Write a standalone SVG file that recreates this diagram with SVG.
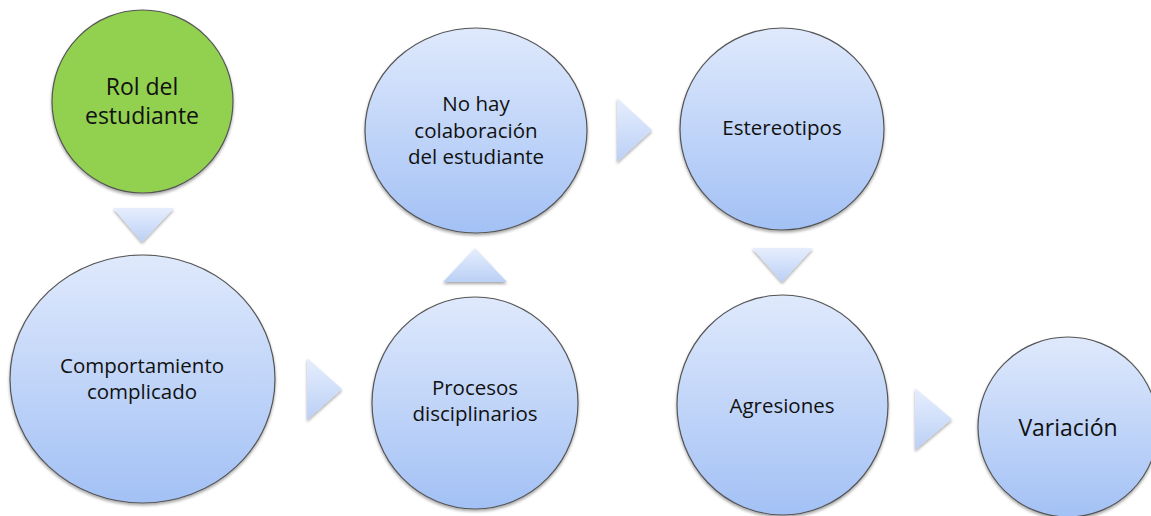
<svg xmlns="http://www.w3.org/2000/svg" width="1151" height="516" viewBox="0 0 1151 516">
<defs>
<linearGradient id="gBlue" x1="0" y1="0" x2="0" y2="1">
<stop offset="0" stop-color="#DFE9FC"/>
<stop offset="1" stop-color="#A3C1F5"/>
</linearGradient>
<linearGradient id="gArrow" x1="0" y1="0" x2="0" y2="1">
<stop offset="0" stop-color="#E6EEFD"/>
<stop offset="1" stop-color="#BBD0F6"/>
</linearGradient>
<filter id="sh" x="-20%" y="-20%" width="140%" height="140%">
<feGaussianBlur in="SourceAlpha" stdDeviation="1.5"/>
<feOffset dx="0" dy="2" result="b"/>
<feComponentTransfer><feFuncA type="linear" slope="0.35"/></feComponentTransfer>
<feMerge><feMergeNode/><feMergeNode in="SourceGraphic"/></feMerge>
</filter>
</defs>
<style>
.blue{fill:url(#gBlue);stroke:#555555;stroke-width:1.2;filter:url(#sh)}
.green{fill:#92D050;stroke:#555555;stroke-width:1.2;filter:url(#sh)}
.arr{fill:url(#gArrow);stroke:none;filter:url(#sh)}
.t{font-family:"Open Sans","Liberation Sans",sans-serif;font-size:20.5px;fill:#111;text-anchor:middle}
.tg{font-family:"Open Sans","Liberation Sans",sans-serif;font-size:23px;fill:#111;text-anchor:middle}
</style>
<rect width="1151" height="516" fill="#ffffff"/>
<g id="connectors">
<polygon class="arr" points="113,208 174,208 142,242"/>
<polygon class="arr" points="307,358 342,389 307,420"/>
<polygon class="arr" points="443,282 507,282 475,248"/>
<polygon class="arr" points="617,98 652,130 617,162"/>
<polygon class="arr" points="752,248 813,248 782,282"/>
<polygon class="arr" points="915,388 952,419 915,450"/>
</g>
<g id="rol">
<ellipse class="green" cx="142.5" cy="101.5" rx="90.5" ry="91.5"/>
<text class="tg" x="142" y="95">Rol del</text>
<text class="tg" x="142" y="124">estudiante</text>
</g>
<g id="comportamiento">
<ellipse class="blue" cx="142.5" cy="379" rx="132.5" ry="124"/>
<text class="t" x="142" y="373">Comportamiento</text>
<text class="t" x="142" y="399">complicado</text>
</g>
<g id="procesos">
<ellipse class="blue" cx="475" cy="403" rx="103" ry="106"/>
<text class="t" x="475" y="395">Procesos</text>
<text class="t" x="475" y="421">disciplinarios</text>
</g>
<g id="nohay">
<ellipse class="blue" cx="476" cy="130.5" rx="111" ry="102.5"/>
<text class="t" x="476" y="111">No hay</text>
<text class="t" x="476" y="138">colaboración</text>
<text class="t" x="476" y="164">del estudiante</text>
</g>
<g id="estereotipos">
<ellipse class="blue" cx="782" cy="129" rx="102" ry="101"/>
<text class="t" x="782" y="135">Estereotipos</text>
</g>
<g id="agresiones">
<ellipse class="blue" cx="782.5" cy="405" rx="105.5" ry="110"/>
<text class="t" x="782" y="413">Agresiones</text>
</g>
<g id="variacion">
<ellipse class="blue" cx="1068" cy="427" rx="90" ry="90"/>
<text class="t" x="1068" y="436" style="font-size:23px">Variación</text>
</g>
</svg>
